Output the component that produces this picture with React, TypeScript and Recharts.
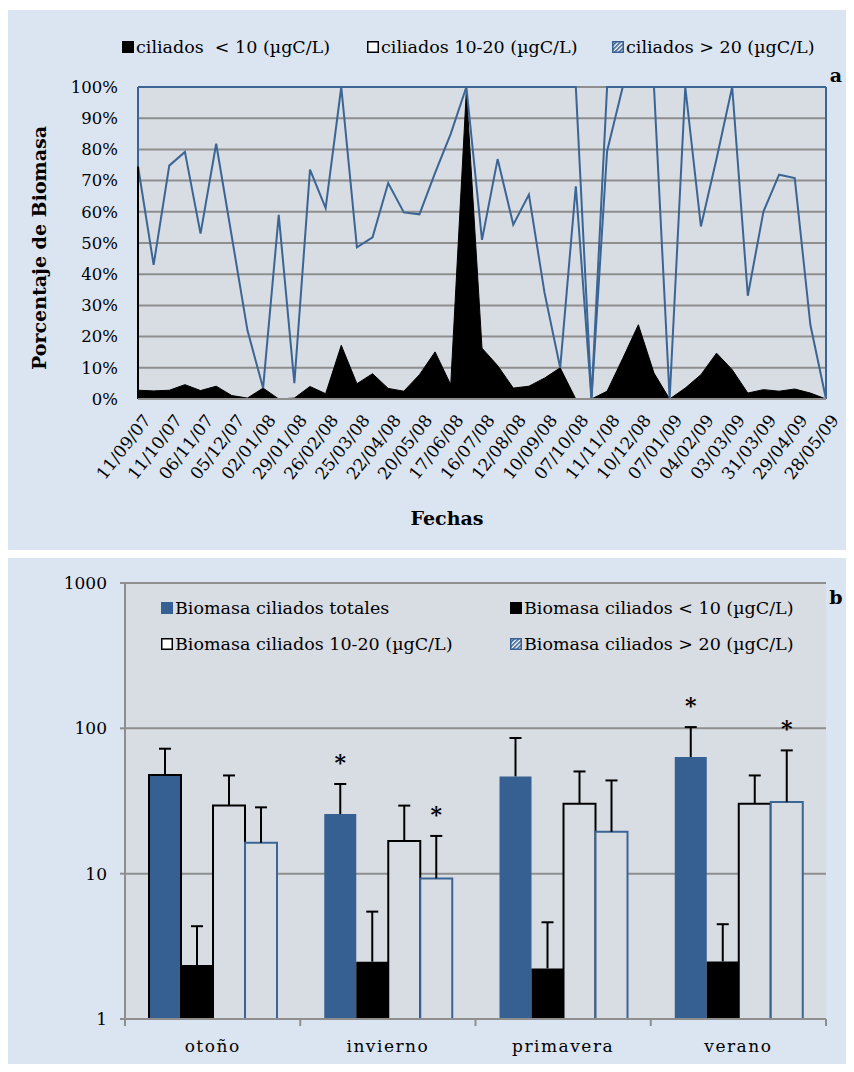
import React from 'react';
import {
  AreaChart, Area, BarChart, Bar, XAxis, YAxis, CartesianGrid, ReferenceLine,
  ErrorBar, LabelList, Legend, Cell,
} from 'recharts';

// Panel a: porcentaje de biomasa por fecha (45 muestreos, etiqueta cada dos)
const fechas = [
  '11/09/07', '11/10/07', '06/11/07', '05/12/07', '02/01/08', '29/01/08', '26/02/08', '25/03/08',
  '22/04/08', '20/05/08', '17/06/08', '16/07/08', '12/08/08', '10/09/08', '07/10/08', '11/11/08',
  '10/12/08', '07/01/09', '04/02/09', '03/03/09', '31/03/09', '29/04/09', '28/05/09',
];
const pctMenor10 = [
  2.8, 2.6, 2.8, 4.6, 2.7, 4.1, 1.1, 0.3, 3.5, 0, 0.3, 4.0, 1.7, 17.2, 4.9, 8.1, 3.4, 2.5, 7.8, 15.1,
  4.6, 99.0, 16.3, 10.7, 3.5, 4.1, 6.7, 10.0, 0, 0, 2.5, 13.0, 23.8, 8.3, 0, 3.5, 7.8, 14.7, 9.4, 1.9,
  3.0, 2.5, 3.2, 1.9, 0,
];
const pct10a20 = [
  71.8, 40.4, 72.0, 74.6, 50.3, 77.7, 50.9, 21.7, 0, 59.0, 4.8, 69.5, 59.5, 82.8, 43.7, 43.7, 65.8, 57.3, 51.4, 57.4,
  80.4, 1.0, 34.7, 66.2, 52.4, 61.4, 27.3, 0, 68.2, 0, 76.9, 87.0, 76.2, 91.7, 0, 96.5, 47.5, 62.3, 90.6, 31.2,
  57.1, 69.4, 67.6, 21.9, 0,
];
const pctMayor20 = [
  25.4, 57.0, 25.2, 20.8, 47.0, 18.2, 48.0, 78.0, 96.5, 41.0, 94.9, 26.5, 38.8, 0, 51.4, 48.2, 30.8, 40.2, 40.8, 27.5,
  15.0, 0, 49.0, 23.1, 44.1, 34.5, 66.0, 90.0, 31.8, 0, 20.6, 0, 0, 0, 100, 0, 44.7, 23.0, 0, 66.9,
  39.9, 28.1, 29.2, 76.2, 100,
];
const ticksPct = [0, 10, 20, 30, 40, 50, 60, 70, 80, 90, 100];

// Panel b: biomasa media por estación (µgC/L) y desviación
const estaciones = ['otoño', 'invierno', 'primavera', 'verano'];
const bioTotales = [47.7, 25.7, 46.7, 63.5];
const bioTotalesDE = [24.7, 15.7, 39.1, 38.5];
const bioMenor10 = [2.35, 2.48, 2.23, 2.49];
const bioMenor10DE = [2.0, 3.0, 2.4, 2.0];
const bio10a20 = [29.4, 16.8, 30.3, 30.3];
const bio10a20DE = [18.0, 12.6, 20.2, 17.1];
const bioMayor20 = [16.3, 9.28, 19.4, 31.1];
const bioMayor20DE = [12.3, 8.9, 24.4, 39.4];
const signifTotales = [false, true, false, true];
const signifMayor20 = [false, true, false, true];
const ticksLog = [1, 10, 100, 1000];

const FONT = '"DejaVu Serif", serif';
const PANEL_BG = '#dbe5f1';
const PLOT_BG = '#d8dce3';
const GRID = '#8e8e8e';
const BLUE_LINE = '#3a6595';
const BLUE_BAR = '#366092';
const PANEL_W = 838;

const serieA = pctMenor10.map((v, i) => ({
  i, menor10: v, de10a20: pct10a20[i], mayor20: pctMayor20[i],
}));
const tickIdx = fechas.map((_, k) => k * 2);

const serieB = estaciones.map((e, k) => ({
  estacion: e,
  totales: bioTotales[k], totalesDE: bioTotalesDE[k],
  menor10: bioMenor10[k], menor10DE: bioMenor10DE[k],
  de10a20: bio10a20[k], de10a20DE: bio10a20DE[k],
  mayor20: bioMayor20[k], mayor20DE: bioMayor20DE[k],
}));

function Marker({ kind }: { kind: string }) {
  const s = 12;
  if (kind === 'hatch') {
    return (
      <svg width={s} height={s} style={{ marginRight: 2, flex: 'none' }}>
        <defs>
          <pattern id="hatch" patternUnits="userSpaceOnUse" width="3" height="3" patternTransform="rotate(45)">
            <rect width="3" height="3" fill="#fff" />
            <rect width="1.6" height="3" fill={BLUE_BAR} />
          </pattern>
        </defs>
        <rect x={0.75} y={0.75} width={s - 1.5} height={s - 1.5} fill="url(#hatch)" stroke={BLUE_BAR} strokeWidth={1.5} />
      </svg>
    );
  }
  const fill = kind === 'black' ? '#000' : kind === 'blue' ? BLUE_BAR : '#fff';
  const stroke = kind === 'blue' ? BLUE_BAR : '#000';
  return (
    <svg width={s} height={s} style={{ marginRight: 2, flex: 'none' }}>
      <rect x={0.75} y={0.75} width={s - 1.5} height={s - 1.5} fill={fill} stroke={stroke} strokeWidth={1.5} />
    </svg>
  );
}

const legendA: Record<string, { kind: string; left: number }> = {
  menor10: { kind: 'black', left: 114 },
  de10a20: { kind: 'white', left: 359 },
  mayor20: { kind: 'hatch', left: 604 },
};

const legendB: Record<string, { kind: string; left: number; top: number }> = {
  totales: { kind: 'blue', left: 153, top: 0 },
  menor10: { kind: 'black', left: 502, top: 0 },
  de10a20: { kind: 'white', left: 153, top: 36 },
  mayor20: { kind: 'hatch', left: 502, top: 36 },
};

function makeLegend(layout: Record<string, any>, h: number) {
  return function LegendContent(props: any) {
    const items = props.payload ?? [];
    return (
      <div style={{ position: 'relative', width: PANEL_W, height: h, fontFamily: FONT, fontSize: 17.5, color: '#000' }}>
        {items.map((it: any) => {
          const cfg = layout[it.dataKey];
          if (!cfg) return null;
          return (
            <div key={it.dataKey} style={{
              position: 'absolute', left: cfg.left, top: cfg.top ?? 0, height: 22,
              display: 'flex', alignItems: 'center', whiteSpace: 'pre', lineHeight: '22px',
            }}>
              <Marker kind={cfg.kind} />
              <span>{it.value}</span>
            </div>
          );
        })}
      </div>
    );
  };
}

function DateTick(props: any) {
  const { x, y, payload } = props;
  const label = fechas[Math.round(payload.value / 2)];
  const ax = x + 4;
  const ay = y + 12;
  return (
    <text x={ax} y={ay} dy="0.72em" textAnchor="end" transform={`rotate(-52 ${ax} ${ay})`}
      fontSize={17} fontFamily={FONT} fill="#000">
      {label}
    </text>
  );
}

function SeasonTick(props: any) {
  const { x, y, payload, index, width, visibleTicksCount } = props;
  const band = (width ?? 701) / (visibleTicksCount ?? 4);
  const left = x - band / 2;
  return (
    <g>
      <line x1={left} x2={left} y1={y} y2={y + 7} stroke={GRID} strokeWidth={2} />
      {index === (visibleTicksCount ?? 4) - 1 && (
        <line x1={left + band} x2={left + band} y1={y} y2={y + 7} stroke={GRID} strokeWidth={2} />
      )}
      <text x={x} y={y + 33} textAnchor="middle" fontSize={17} fontFamily={FONT} fill="#000" letterSpacing={1.5}>
        {payload.value}
      </text>
    </g>
  );
}

function makeAsterisk(de: number[], signif: boolean[]) {
  return function AsteriskLabel(props: any) {
    const { index, value } = props;
    if (!signif[index]) return null;
    const vb = props.viewBox ?? props;
    const { x, y, width, height } = vb;
    const k = Math.abs(height) / Math.log10(value);
    const top = y - k * Math.log10((value + de[index]) / value);
    return (
      <text x={x + width / 2} y={top - 14} textAnchor="middle" fontSize={22} fontWeight="bold" fontFamily={FONT} fill="#000">
        *
      </text>
    );
  };
}

const overlayText: React.CSSProperties = {
  position: 'absolute', fontFamily: FONT, fontWeight: 'bold', fontSize: 19, lineHeight: 1,
  whiteSpace: 'nowrap', color: '#000', zIndex: 5,
};

// solo el brazo superior de las barras de error, como en el original
const errorCss = '.recharts-errorBar line:nth-of-type(3) { display: none; }';

export default function App() {
  const edgeA = pctMenor10[0] + pct10a20[0];
  const topA = edgeA + pctMayor20[0];
  const last = serieA.length - 1;
  const topLast = pctMenor10[last] + pct10a20[last] + pctMayor20[last];

  return (
    <div style={{ paddingTop: 2, width: PANEL_W }}>
      <style>{errorCss}</style>
      <div style={{ position: 'relative', width: PANEL_W, height: 540, background: PANEL_BG }}>
        <AreaChart width={PANEL_W} height={540} data={serieA} margin={{ top: 77, right: 20, bottom: 0, left: 0 }}>
          <CartesianGrid vertical={false} stroke={GRID} strokeWidth={2} fill={PLOT_BG} />
          <XAxis type="number" dataKey="i" domain={[0, 44]} ticks={tickIdx} interval={0} height={151}
            tickLine={false} tickSize={0} tickMargin={2} axisLine={{ stroke: GRID, strokeWidth: 2 }}
            tick={<DateTick />} />
          <YAxis type="number" domain={[0, 100]} ticks={ticksPct} width={130} axisLine={false}
            tickLine={false} tickSize={0} tickMargin={20} tickFormatter={(v) => `${v}%`}
            tick={{ fill: '#000', fontSize: 16.5, fontFamily: FONT }} />
          <Legend layout="vertical" align="center" verticalAlign="middle"
            wrapperStyle={{ top: 26, left: 0, width: PANEL_W, height: 22 }}
            content={makeLegend(legendA, 22)} />
          <Area type="linear" dataKey="menor10" name="ciliados  < 10 (µgC/L)" stackId="a"
            fill="#000" fillOpacity={1} stroke="#000" strokeWidth={1} dot={false} activeDot={false}
            isAnimationActive={false} />
          <Area type="linear" dataKey="de10a20" name="ciliados 10-20 (µgC/L)" stackId="a"
            fill="none" fillOpacity={0} stroke={BLUE_LINE} strokeWidth={2} dot={false} activeDot={false}
            isAnimationActive={false} />
          <Area type="linear" dataKey="mayor20" name="ciliados > 20 (µgC/L)" stackId="a"
            fill="none" fillOpacity={0} stroke={BLUE_LINE} strokeWidth={2} dot={false} activeDot={false}
            isAnimationActive={false} />
          <ReferenceLine segment={[{ x: 0, y: 0 }, { x: 0, y: edgeA }]} stroke="#000" strokeWidth={2} />
          <ReferenceLine segment={[{ x: 0, y: edgeA }, { x: 0, y: topA }]} stroke={BLUE_LINE} strokeWidth={2} />
          <ReferenceLine segment={[{ x: last, y: 0 }, { x: last, y: topLast }]} stroke={BLUE_LINE} strokeWidth={2} />
        </AreaChart>
        <div style={{ ...overlayText, left: 30.5, top: 238, transform: 'translate(-50%, -50%) rotate(-90deg)' }}>
          Porcentaje de Biomasa
        </div>
        <div style={{ ...overlayText, left: 439, top: 508, transform: 'translate(-50%, -50%)' }}>Fechas</div>
        <div style={{ ...overlayText, left: 828, top: 65, transform: 'translate(-50%, -50%)' }}>a</div>
      </div>

      <div style={{ position: 'relative', width: PANEL_W, height: 506, marginTop: 8, background: PANEL_BG }}>
        <BarChart width={PANEL_W} height={506} data={serieB} margin={{ top: 25, right: 20, bottom: 0, left: 0 }}
          barCategoryGap="13.7%" barGap={0}>
          <CartesianGrid vertical={false} stroke={GRID} strokeWidth={2} fill={PLOT_BG} />
          <XAxis dataKey="estacion" height={45} interval={0} tickLine={false} tickSize={0} tickMargin={0}
            axisLine={{ stroke: GRID, strokeWidth: 2 }} tick={<SeasonTick />} />
          <YAxis type="number" scale="log" domain={[1, 1000]} ticks={ticksLog} allowDataOverflow width={117}
            tickSize={5} tickMargin={13} tickLine={{ stroke: GRID, strokeWidth: 2 }}
            axisLine={{ stroke: GRID, strokeWidth: 2 }}
            tick={{ fill: '#000', fontSize: 17, fontFamily: FONT }} />
          <Legend layout="vertical" align="center" verticalAlign="middle"
            wrapperStyle={{ top: 39, left: 0, width: PANEL_W, height: 60 }}
            content={makeLegend(legendB, 60)} />
          <Bar dataKey="totales" name="Biomasa ciliados totales" fill={BLUE_BAR} isAnimationActive={false}>
            {serieB.map((_, k) => (
              <Cell key={k} stroke={k === 0 ? '#000' : 'none'} strokeWidth={k === 0 ? 2 : 0} />
            ))}
            <ErrorBar dataKey={(d: any) => [0, d.totalesDE]} direction="y" width={6} stroke="#000" strokeWidth={2} />
            <LabelList dataKey="totales" content={makeAsterisk(bioTotalesDE, signifTotales)} />
          </Bar>
          <Bar dataKey="menor10" name="Biomasa ciliados < 10 (µgC/L)" fill="#000" isAnimationActive={false}>
            <ErrorBar dataKey={(d: any) => [0, d.menor10DE]} direction="y" width={6} stroke="#000" strokeWidth={2} />
          </Bar>
          <Bar dataKey="de10a20" name="Biomasa ciliados 10-20 (µgC/L)" fill={PLOT_BG} stroke="#000" strokeWidth={2}
            isAnimationActive={false}>
            <ErrorBar dataKey={(d: any) => [0, d.de10a20DE]} direction="y" width={6} stroke="#000" strokeWidth={2} />
          </Bar>
          <Bar dataKey="mayor20" name="Biomasa ciliados > 20 (µgC/L)" fill={PLOT_BG} stroke={BLUE_LINE} strokeWidth={2}
            isAnimationActive={false}>
            <ErrorBar dataKey={(d: any) => [0, d.mayor20DE]} direction="y" width={6} stroke="#000" strokeWidth={2} />
            <LabelList dataKey="mayor20" content={makeAsterisk(bioMayor20DE, signifMayor20)} />
          </Bar>
        </BarChart>
        <div style={{ ...overlayText, left: 828, top: 39, transform: 'translate(-50%, -50%)' }}>b</div>
      </div>
    </div>
  );
}
